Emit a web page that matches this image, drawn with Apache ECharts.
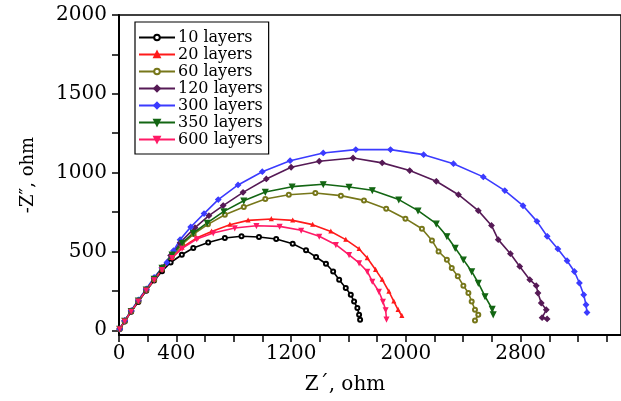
<!DOCTYPE html>
<html>
<head>
<meta charset="utf-8">
<script src="https://cdn.jsdelivr.net/npm/echarts@6/dist/echarts.min.js"></script>
<style>
html,body{margin:0;padding:0;background:#fff;}
#chart{width:621px;height:401px;}
</style>
</head>
<body>
<div id="chart"></div>
<script>
// Series names
const seriesNames = ['10 layers', '20 layers', '60 layers', '120 layers', '300 layers', '350 layers', '600 layers'];

// [Z', -Z''] values (ohm)
const layers10 = [[5,8],[40,55],[85,118],[135,180],[190,250],[245,315],[300,375],[360,430],[438,479],[518,522],[622,557],[738,585],[854,596],[976,592],[1096,579],[1211,549],[1304,507],[1374,465],[1443,422],[1493,373],[1535,321],[1581,268],[1616,225],[1639,183],[1662,141],[1674,98],[1681,67]];
const layers20 = [[5,8],[40,58],[85,120],[135,185],[190,255],[245,320],[300,385],[370,460],[440,525],[540,585],[646,627],[773,670],[900,697],[1062,706],[1211,697],[1350,670],[1477,627],[1581,575],[1674,516],[1731,458],[1789,384],[1835,321],[1882,246],[1916,183],[1946,130],[1972,92]];
const layers60 = [[5,8],[40,58],[85,120],[135,185],[190,255],[245,322],[300,390],[370,470],[440,545],[520,610],[620,672],[738,733],[870,782],[1020,833],[1184,860],[1369,871],[1547,854],[1708,824],[1863,771],[1997,708],[2112,644],[2182,570],[2228,500],[2286,448],[2320,395],[2362,342],[2401,283],[2436,236],[2459,183],[2482,130],[2505,98],[2482,62]];
const layers120 = [[5,8],[40,60],[85,122],[135,188],[190,258],[245,328],[300,398],[360,475],[426,556],[530,651],[627,727],[726,791],[865,875],[1027,960],[1200,1034],[1396,1072],[1632,1093],[1835,1062],[2027,1013],[2212,945],[2367,860],[2505,759],[2597,665],[2644,575],[2729,486],[2794,405],[2864,321],[2909,283],[2921,236],[2944,173],[2979,130],[2950,80],[2985,72]];
const layers300 = [[5,8],[40,62],[85,125],[135,192],[190,262],[245,335],[300,395],[334,430],[380,505],[426,575],[500,655],[593,740],[692,829],[830,922],[999,1006],[1193,1076],[1424,1125],[1651,1146],[1893,1146],[2124,1114],[2332,1057],[2540,973],[2690,886],[2817,790],[2914,691],[2985,596],[3060,516],[3124,441],[3175,373],[3210,300],[3240,225],[3256,162],[3263,113]];
const layers350 = [[5,8],[40,60],[85,122],[135,188],[190,258],[245,326],[300,395],[370,480],[440,555],[518,617],[615,681],[731,754],[870,822],[1020,877],[1207,911],[1424,926],[1604,909],[1766,888],[1951,829],[2085,759],[2212,676],[2286,596],[2344,522],[2401,448],[2459,373],[2505,300],[2552,215],[2602,135],[2609,100]];
const layers600 = [[5,8],[40,58],[85,120],[135,185],[190,255],[245,320],[300,385],[370,460],[440,520],[542,579],[657,617],[807,649],[958,663],[1120,659],[1270,634],[1396,596],[1512,543],[1604,479],[1674,427],[1731,373],[1766,310],[1812,246],[1840,183],[1859,130],[1865,70]];

// Axis ticks and labels
const xTicks = [0,200,400,600,800,1000,1200,1400,1600,1800,2000,2200,2400,2600,2800,3000,3200,3400];
const xLabels = [0,400,1200,2000,2800];
const yTicks = [0,250,500,750,1000,1250,1500,1750,2000];
const yLabels = [0,500,1000,1500,2000];

const seriesData = [layers10, layers20, layers60, layers120, layers300, layers350, layers600];
const colors = ['#000000', '#ff1a1a', '#77771a', '#561a56', '#3b3bff', '#136613', '#ff1a66'];
const symbols = ['emptyCircle', 'triangle', 'emptyCircle', 'diamond', 'diamond', 'triangle', 'triangle'];
const rotates = [0, 0, 0, 0, 0, 180, 180];
const sizes = [4, 3, 4, 5, 5, 5, 4];

const font = 'DejaVu Serif';
const chart = echarts.init(document.getElementById('chart'), null, {renderer: 'canvas'});

chart.setOption({
  backgroundColor: '#ffffff',
  animation: false,
  grid: {
    left: 119, top: 15, width: 505, height: 320,
    show: true, borderColor: '#000', borderWidth: 1.5, backgroundColor: 'transparent'
  },
  legend: {
    orient: 'vertical',
    left: 135, top: 22,
    padding: [7, 6, 6, 3],
    itemGap: 0,
    itemWidth: 36,
    itemHeight: 7,
    borderColor: '#000', borderWidth: 1.2,
    backgroundColor: '#fff',
    textStyle: {fontFamily: font, fontSize: 16, color: '#000', lineHeight: 17, padding: [0, 0, 0, -2]},
    data: seriesNames
  },
  xAxis: {
    type: 'value', min: 0, max: 3500,
    name: 'Z\u00b4, ohm', nameLocation: 'middle', nameGap: 40,
    nameTextStyle: {fontFamily: font, fontSize: 20, color: '#000', padding: [0, 50, 0, 0]},
    axisLine: {onZero: false, lineStyle: {color: '#000', width: 2}},
    axisTick: {show: true, length: 7, inside: false, customValues: xTicks, lineStyle: {color: '#000', width: 1.5}},
    axisLabel: {customValues: xLabels, formatter: v => String(v), fontFamily: font, fontSize: 20, color: '#000', margin: 9},
    splitLine: {show: false}
  },
  yAxis: {
    type: 'value', min: -30, max: 2000,
    name: '-Z\u2033, ohm', nameLocation: 'middle', nameGap: 82,
    nameTextStyle: {fontFamily: font, fontSize: 18, color: '#000'},
    axisLine: {onZero: false, lineStyle: {color: '#000', width: 2}},
    axisTick: {show: true, length: 7, inside: false, customValues: yTicks, lineStyle: {color: '#000', width: 1.5}},
    axisLabel: {customValues: yLabels, formatter: v => String(v), fontFamily: font, fontSize: 20, color: '#000', margin: 12},
    splitLine: {show: false}
  },
  series: seriesNames.map((name, i) => ({
    name: name,
    type: 'line',
    data: seriesData[i],
    color: colors[i],
    symbol: symbols[i],
    symbolSize: sizes[i],
    symbolRotate: rotates[i],
    showAllSymbol: true,
    lineStyle: {width: 1.6, color: colors[i]},
    itemStyle: {color: colors[i], borderColor: colors[i], borderWidth: 1.3},
    smooth: false
  }))
});
</script>
</body>
</html>
